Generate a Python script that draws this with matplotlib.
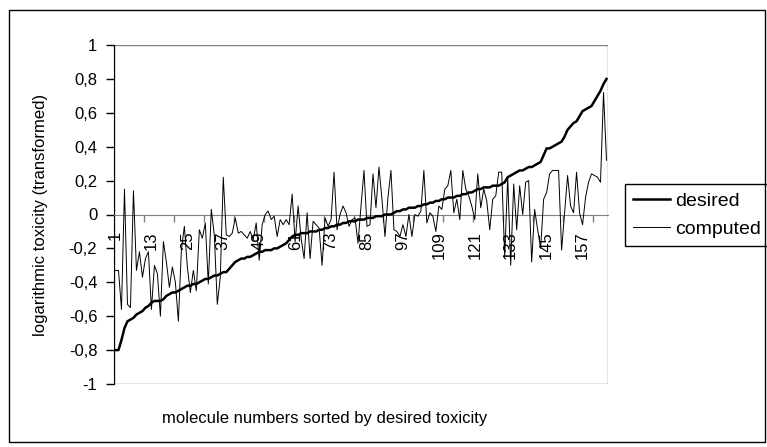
import numpy as np
import matplotlib
matplotlib.use("Agg")
import matplotlib.pyplot as plt
from matplotlib.patches import Rectangle
from matplotlib.ticker import FixedLocator, FuncFormatter

plt.rcParams['font.family'] = ['Liberation Sans', 'DejaVu Sans']

# valeurs (165 molécules triées)
desired = [
    -0.80, -0.80, -0.74, -0.67, -0.63, -0.62, -0.61, -0.59, -0.58, -0.57,
    -0.55, -0.54, -0.52, -0.51, -0.51, -0.51, -0.50, -0.48, -0.47, -0.46,
    -0.46, -0.45, -0.44, -0.43, -0.42, -0.42, -0.41, -0.41, -0.40, -0.39,
    -0.38, -0.38, -0.37, -0.36, -0.36, -0.35, -0.34, -0.34, -0.32, -0.30,
    -0.28, -0.27, -0.26, -0.26, -0.25, -0.25, -0.24, -0.23, -0.22, -0.22,
    -0.21, -0.21, -0.21, -0.20, -0.20, -0.19, -0.18, -0.17, -0.15, -0.13,
    -0.12, -0.12, -0.11, -0.11, -0.11, -0.10, -0.10, -0.10, -0.09, -0.09,
    -0.08, -0.08, -0.07, -0.07, -0.06, -0.06, -0.05, -0.05, -0.04, -0.04,
    -0.04, -0.03, -0.03, -0.03, -0.02, -0.02, -0.02, -0.01, -0.01, -0.01,
    0.00, 0.00, 0.00, 0.01, 0.02, 0.02, 0.03, 0.03, 0.04, 0.04,
    0.04, 0.05, 0.05, 0.06, 0.06, 0.07, 0.07, 0.08, 0.08, 0.09,
    0.09, 0.10, 0.10, 0.10, 0.11, 0.11, 0.12, 0.12, 0.13, 0.13,
    0.14, 0.15, 0.15, 0.16, 0.16, 0.16, 0.17, 0.17, 0.17, 0.18,
    0.19, 0.22, 0.23, 0.24, 0.25, 0.26, 0.26, 0.27, 0.28, 0.28,
    0.29, 0.30, 0.31, 0.35, 0.39, 0.39, 0.40, 0.41, 0.42, 0.43,
    0.46, 0.50, 0.52, 0.54, 0.55, 0.58, 0.61, 0.62, 0.63, 0.64,
    0.67, 0.70, 0.73, 0.77, 0.80,
]

computed = [
    -0.33, -0.33, -0.56, 0.15, -0.53, -0.55, 0.14, -0.33, -0.22, -0.37,
    -0.26, -0.22, -0.56, -0.30, -0.35, -0.60, -0.16, -0.28, -0.43, -0.31,
    -0.40, -0.63, -0.21, -0.07, -0.31, -0.46, -0.33, -0.45, -0.09, -0.14,
    -0.05, -0.41, 0.03, -0.12, -0.53, -0.37, 0.22, -0.12, -0.13, -0.11,
    -0.02, -0.11, -0.10, -0.12, -0.14, -0.10, -0.15, -0.05, -0.27, -0.06,
    0.00, 0.02, -0.03, -0.01, -0.13, -0.03, -0.06, -0.03, -0.06, 0.12,
    -0.16, 0.05, -0.14, -0.26, 0.01, -0.26, -0.04, -0.06, -0.08, -0.30,
    -0.02, -0.07, -0.03, 0.25, -0.09, 0.00, 0.05, 0.01, -0.07, -0.03,
    -0.02, -0.17, 0.05, 0.26, -0.07, -0.06, 0.24, 0.04, 0.28, 0.09,
    -0.13, 0.10, 0.26, -0.09, -0.10, -0.13, -0.06, -0.13, 0.00, -0.13,
    0.00, -0.01, 0.02, 0.26, -0.05, 0.01, -0.01, -0.10, 0.05, 0.03,
    0.15, 0.17, 0.26, 0.01, 0.09, -0.03, 0.26, 0.15, 0.11, 0.05,
    -0.03, 0.24, 0.04, 0.15, 0.08, -0.09, 0.09, 0.11, 0.25, 0.25,
    -0.25, 0.22, -0.30, 0.18, -0.09, 0.17, 0.00, 0.19, 0.20, -0.28,
    0.03, -0.09, -0.20, 0.09, 0.13, 0.24, 0.26, 0.26, 0.26, -0.21,
    0.01, 0.23, 0.05, 0.01, 0.25, 0.01, -0.06, 0.10, 0.19, 0.24,
    0.23, 0.22, 0.19, 0.72, 0.32,
]

n = len(desired)
x = np.arange(1, n + 1)
labels_x = list(range(1, n + 1, 12))   # 1, 13, 25, ... 157

W, H = 767, 447
fig = plt.figure(figsize=(W / 100, H / 100), dpi=100)
ax = fig.add_axes([114 / W, 1 - 384 / H, 494 / W, 339 / H])

ax.plot(x, desired, color='black', lw=1.8, label='desired', zorder=3)
ax.plot(x, computed, color='black', lw=0.7, label='computed', zorder=3)

ax.set_xlim(0.5, n + 0.5)
ax.set_ylim(-1, 1)

# axe des x qui coupe en 0 (style Excel)
ax.spines['bottom'].set_position(('data', 0))
ax.spines['bottom'].set_color('#808080')
ax.spines['top'].set_visible(False)
ax.spines['right'].set_visible(False)
ax.spines['left'].set_color('black')
ax.add_patch(Rectangle((0, 0), 1, 1, transform=ax.transAxes, fill=False,
                       edgecolor='#808080', lw=1, zorder=1))

ax.xaxis.set_major_locator(FixedLocator(np.arange(10.5, n, 10)))
ax.xaxis.set_major_formatter(FuncFormatter(lambda v, p: ''))
ax.xaxis.set_minor_locator(FixedLocator(labels_x))
ax.xaxis.set_minor_formatter(FuncFormatter(lambda v, p: str(int(round(v)))))
ax.tick_params(axis='x', which='major', direction='out', length=5,
               color='#808080', width=1)
ax.tick_params(axis='x', which='minor', length=0, pad=12, labelsize=12,
               labelrotation=90)


def virgule(v, p):
    s = '%g' % round(v, 1)
    if s == '-0':
        s = '0'
    return s.replace('.', ',')


ax.set_yticks(np.linspace(-1, 1, 11))
ax.yaxis.set_major_formatter(FuncFormatter(virgule))
ax.tick_params(axis='y', direction='out', length=6, width=1, pad=6,
               labelsize=12)

fig.text(41 / W, 1 - 215 / H, 'logarithmic toxicity (transformed)',
         rotation=90, ha='center', va='center', fontsize=12)
fig.text(325 / W, 1 - 418 / H, 'molecule numbers sorted by desired toxicity',
         ha='center', va='center', fontsize=12)

leg = ax.legend(loc='upper left', bbox_to_anchor=(625 / W, 1 - 184 / H),
                bbox_transform=fig.transFigure, fontsize=14, frameon=True,
                fancybox=False, edgecolor='black', framealpha=1,
                handlelength=1.9, handletextpad=0.25, borderpad=0.42,
                labelspacing=0.55, borderaxespad=0)
leg.get_frame().set_linewidth(1)

# cadre extérieur du graphique
fig.patches.append(Rectangle((9 / W, 1 - 442 / H), 756 / W, 432 / H,
                             transform=fig.transFigure, fill=False,
                             edgecolor='black', lw=1))

fig.savefig('out.png', dpi=100)
